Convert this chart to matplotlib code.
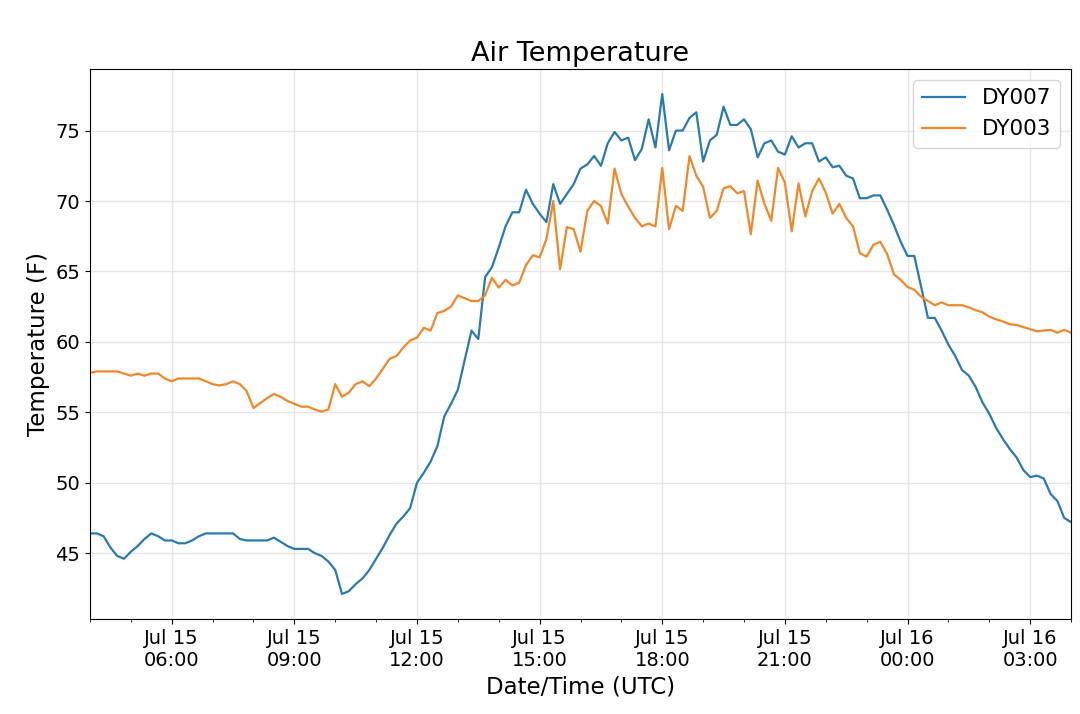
import pandas as pd
import matplotlib
matplotlib.use("Agg")
import matplotlib.pyplot as plt
import matplotlib.dates as mdates

# 10-minute readings, Jul 15 04:00 -> Jul 16 04:00 (UTC)
times = pd.date_range("2019-07-15 04:00", periods=145, freq="10min")

dy007 = [46.4, 46.4, 46.2, 45.4, 44.8, 44.6, 45.1, 45.5, 46.0, 46.4, 46.2, 45.9, 45.9,
         45.7, 45.7, 45.9, 46.2, 46.4, 46.4, 46.4, 46.4, 46.4, 46.0, 45.9, 45.9, 45.9,
         45.9, 46.1, 45.8, 45.5, 45.3, 45.3, 45.3, 45.0, 44.8, 44.4, 43.8, 42.1, 42.3,
         42.8, 43.2, 43.8, 44.6, 45.4, 46.3, 47.1, 47.6, 48.2, 50.0, 50.7, 51.5,
         52.6, 54.7, 55.6, 56.6, 58.7, 60.8, 60.2, 64.6, 65.3, 66.7, 68.2, 69.2, 69.2,
         70.8, 69.8, 69.1, 68.5, 71.2, 69.8, 70.5, 71.2, 72.3, 72.6, 73.2, 72.5,
         74.1, 74.9, 74.3, 74.5, 72.9, 73.7, 75.8, 73.8, 77.6, 73.6, 75.0, 75.0, 75.9,
         76.3, 72.8, 74.3, 74.7, 76.7, 75.4, 75.4, 75.8, 75.1, 73.1,
         74.1, 74.3, 73.5, 73.3, 74.6, 73.8, 74.1, 74.1, 72.8, 73.1, 72.4, 72.5, 71.8,
         71.6, 70.2, 70.2, 70.4, 70.4, 69.4, 68.3, 67.1, 66.1, 66.1, 63.9,
         61.7, 61.7, 60.8, 59.8, 59.0, 58.0, 57.6, 56.8, 55.7, 54.9, 53.9, 53.1, 52.4,
         51.8, 50.9, 50.4, 50.5, 50.3, 49.2, 48.7, 47.5, 47.2]

dy003 = [57.8, 57.9, 57.9, 57.9, 57.9, 57.75, 57.6, 57.75, 57.6, 57.75, 57.75, 57.4, 57.2,
         57.4, 57.4, 57.4, 57.4, 57.2, 57.0, 56.9, 57.0, 57.2, 57.0, 56.5, 55.3, 55.65,
         56.0, 56.3, 56.1, 55.8, 55.6, 55.4, 55.4, 55.2, 55.05, 55.2, 57.0, 56.1, 56.4,
         57.0, 57.2, 56.85, 57.4, 58.1, 58.8, 59.0, 59.6, 60.1, 60.3, 61.0, 60.8,
         62.05, 62.2, 62.5, 63.3, 63.1, 62.9, 62.9, 63.3, 64.55, 63.85, 64.4, 64.0, 64.2,
         65.45, 66.15, 66.0, 67.3, 70.0, 65.15, 68.15, 68.0, 66.4, 69.3, 70.0, 69.65,
         68.4, 72.3, 70.5, 69.6, 68.8, 68.2, 68.4, 68.2, 72.35, 68.0, 69.65, 69.3, 73.2,
         71.8, 71.0, 68.8, 69.3, 70.9, 71.05, 70.55, 70.7, 67.65, 71.45,
         69.8, 68.6, 72.35, 71.3, 67.85, 71.25, 68.9, 70.7, 71.6, 70.6, 69.1, 69.8, 68.8,
         68.2, 66.3, 66.05, 66.9, 67.1, 66.25, 64.8, 64.4, 63.9, 63.7, 63.2,
         62.9, 62.6, 62.8, 62.6, 62.6, 62.6, 62.45, 62.25, 62.1, 61.8, 61.6, 61.45, 61.25,
         61.2, 61.05, 60.9, 60.75, 60.8, 60.85, 60.65, 60.85, 60.65]

fig = plt.figure(figsize=(10.8, 7.14), dpi=100)
ax = fig.add_axes([0.0833, 0.1331, 0.9084, 0.7703])

ax.plot(times, dy007, color="#2a7ab0", lw=1.6, label="DY007")
ax.plot(times, dy003, color="#f0882a", lw=1.6, label="DY003")

ax.set_xlim(times[0], times[-1])
ax.margins(y=0.05)

ax.xaxis.set_major_locator(mdates.HourLocator(byhour=range(0, 24, 3)))
ax.xaxis.set_minor_locator(mdates.HourLocator())
ax.xaxis.set_major_formatter(mdates.DateFormatter("%b %d\n%H:%M"))
ax.tick_params(axis="both", which="major", labelsize=14)

ax.grid(True, color="#e6e6e6", lw=1.0)
ax.set_axisbelow(True)

ax.set_title("Air Temperature", fontsize=19.5)
ax.set_xlabel("Date/Time (UTC)", fontsize=16.5)
ax.set_ylabel("Temperature (F)", fontsize=16.5)

ax.legend(loc="upper right", fontsize=15.5)

fig.savefig("out.png", dpi=100)
